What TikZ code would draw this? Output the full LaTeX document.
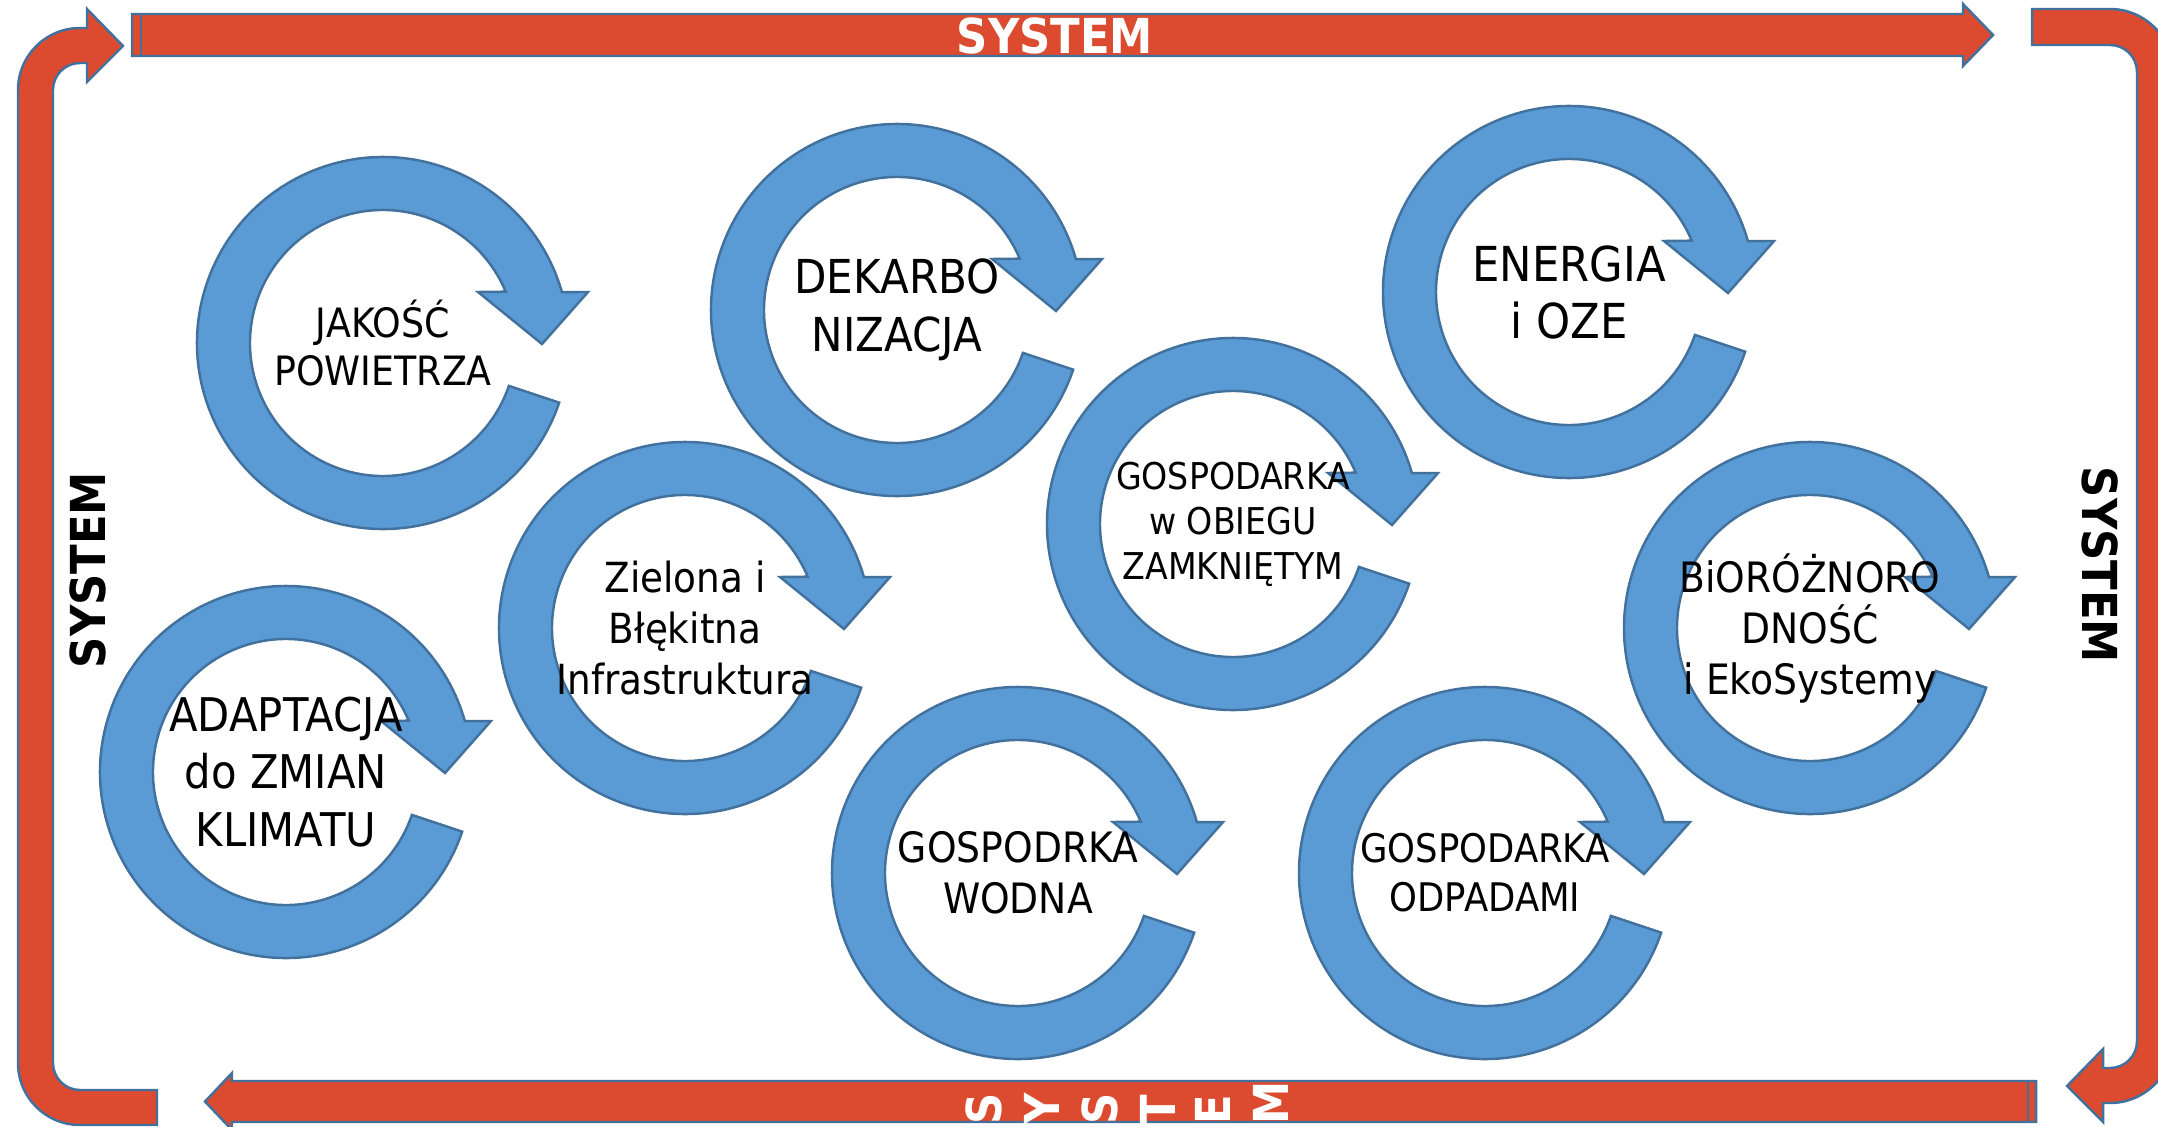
\documentclass[tikz,border=0pt]{standalone}
\usepackage{fontspec}
\setmainfont{DejaVu Sans}[FakeStretch=0.9]
\usepackage{tikz}
\definecolor{framered}{RGB}{220,74,48}
\definecolor{ringblue}{RGB}{91,155,213}
\definecolor{edgeblue}{RGB}{65,113,156}
\tikzset{
	framearrow/.style={draw=edgeblue, fill=framered, line width=0.7pt},
	cycarrow/.style={draw=edgeblue, fill=ringblue, line width=0.7pt},
	lbl/.style={align=center, inner sep=0pt},
	syslbl/.style={font=\bfseries\fontsize{13.7}{16}\selectfont, inner sep=0pt}
}
\tikzset{
	cyclearrow/.pic={
		\draw[cycarrow] (341.3:186) arc[start angle=341.3, end angle=15.9, radius=186] -- (205,51) -- (159,-1) -- (95,51) -- (22.7:133) arc[start angle=22.7, end angle=341.2, radius=133] -- cycle;
	}
}

\begin{document}
\begin{tikzpicture}[x=0.01cm, y=0.01cm]
		\clip (0,0) rectangle (2158,1126);
		% red frame
		\draw[framearrow] (132,1070) -- (1963,1070) -- (1963,1060) -- (1993,1091) -- (1963,1122) -- (1963,1112) -- (132,1112) -- cycle;
		\draw[edgeblue, line width=0.7pt] (141,1070) -- (141,1112);
		\draw[framearrow] (2036,4) -- (232,4) -- (232,-4) -- (205,24.5) -- (232,53) -- (232,45) -- (2036,45) -- cycle;
		\draw[edgeblue, line width=0.7pt] (2028,4) -- (2028,45);
		\draw[framearrow] (157,1) -- (80,1) arc[start angle=270, end angle=180, radius=62] -- (18,1036) arc[start angle=180, end angle=90, radius=62] -- (87,1098) -- (87,1117) -- (123,1080) -- (87,1044) -- (87,1063) -- (80,1063) arc[start angle=90, end angle=180, radius=27] -- (53,63) arc[start angle=180, end angle=270, radius=27] -- (157,36) -- cycle;
		\draw[framearrow] (2032,1117) -- (2110,1117) arc[start angle=90, end angle=0, radius=63] -- (2173,86) arc[start angle=0, end angle=-90, radius=63] -- (2103,23) -- (2103,4) -- (2067,40) -- (2103,77) -- (2103,58) -- (2110,58) arc[start angle=-90, end angle=0, radius=27] -- (2137,1054) arc[start angle=0, end angle=90, radius=27] -- (2032,1081) -- cycle;
		
		\pic (jak) at (383,783) {cyclearrow};
		\pic (dek) at (897,816) {cyclearrow};
		\pic (ene) at (1569,834) {cyclearrow};
		\pic (ziel) at (685,498) {cyclearrow};
		\pic (obieg) at (1233,602) {cyclearrow};
		\pic (bio) at (1810,498) {cyclearrow};
		\pic (adap) at (286,354) {cyclearrow};
		\pic (wod) at (1018,253) {cyclearrow};
		\pic (odp) at (1485,253) {cyclearrow};
		
		\node[lbl, font=\fontsize{11.5}{13.7}\selectfont] at (383,783) (jakosc) {JAKOŚĆ\\POWIETRZA};
		\node[lbl, font=\fontsize{13.3}{16.5}\selectfont] at (897,816) (dekarb) {DEKARBO\\NIZACJA};
		\node[lbl, font=\fontsize{13.7}{16.2}\selectfont] at (1569,834) (energia) {ENERGIA\\i OZE};
		\node[lbl, font=\fontsize{11.8}{14.5}\selectfont] at (685,498) (zielona) {Zielona i\\Błękitna\\Infrastruktura};
		\node[lbl, font=\fontsize{10.5}{12.8}\selectfont] at (1233,602) (obieg) {GOSPODARKA\\w OBIEGU\\ZAMKNIĘTYM};
		\node[lbl, font=\fontsize{11.9}{14.5}\selectfont] at (1810,498) (bioroz) {BiORÓŻNORO\\DNOŚĆ\\i EkoSystemy};
		\node[lbl, font=\fontsize{13.2}{16.4}\selectfont] at (286,354) (adapt) {ADAPTACJA\\do ZMIAN\\KLIMATU};
		\node[lbl, font=\fontsize{11.9}{14.5}\selectfont] at (1018,253) (wodna) {GOSPODRKA\\WODNA};
		\node[lbl, font=\fontsize{11.2}{13.9}\selectfont] at (1485,253) (odpady) {GOSPODARKA\\ODPADAMI};
		
		\node[syslbl, text=white, anchor=base] at (1055,1073) (systop) {SYSTEM};
		\node[syslbl, rotate=90, anchor=base] at (105,556) (sysleft) {SYSTEM};
		\node[syslbl, rotate=-90, anchor=base] at (2082,561) (sysright) {SYSTEM};
		\node[syslbl, text=white, rotate=90, anchor=base west] at (1001,1) (sysb1) {S};
		\node[syslbl, text=white, rotate=90, anchor=base west] at (1059,1) (sysb2) {Y};
		\node[syslbl, text=white, rotate=90, anchor=base west] at (1117,1) (sysb3) {S};
		\node[syslbl, text=white, rotate=90, anchor=base west] at (1175,1) (sysb4) {T};
		\node[syslbl, text=white, rotate=90, anchor=base west] at (1230,1) (sysb5) {E};
		\node[syslbl, text=white, rotate=90, anchor=base west] at (1288,1) (sysb6) {M};
	\end{tikzpicture}
\end{document}
